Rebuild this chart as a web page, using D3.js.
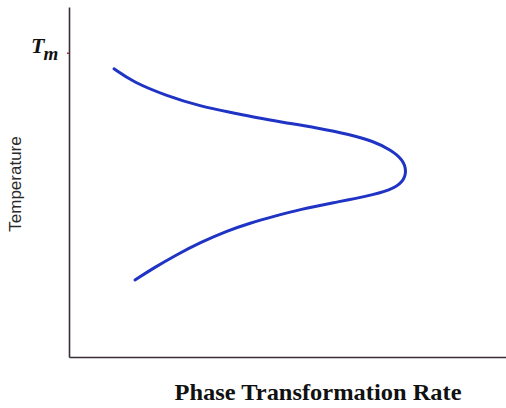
<!DOCTYPE html>
<html>
<head>
<meta charset="utf-8">
<script src="https://cdn.jsdelivr.net/npm/d3@7"></script>
<style>
  body { margin: 0; background: #fff; }
  svg { display: block; }
</style>
</head>
<body>
<div id="chart"></div>
<script>
// curve: rate (x) vs temperature (y), Tm = 100
var rate = [10.3, 14.7, 22.4, 30.0, 37.6, 42.6, 49.0, 56.7, 64.3, 69.6, 73.6, 76.4, 77.3,
            76.4, 73.6, 68.1, 60.5, 52.9, 47.1, 41.4, 36.1, 30.0, 24.6, 19.3, 15.1];
var temperature = [94.7, 90.3, 85.8, 82.4, 80.2, 78.7, 77.1, 75.3, 73.1, 70.9, 68.1, 64.9, 61.0,
                   57.4, 54.8, 52.8, 50.7, 48.5, 46.3, 44.0, 41.4, 37.6, 33.6, 29.2, 25.3];
var tempTicks = [100];
var tempTickLabels = ["T", "m"];

var width = 506, height = 408;
var margin = { top: 7, right: 0, bottom: 50, left: 69 };

var svg = d3.select("#chart").append("svg")
  .attr("width", width)
  .attr("height", height);

var x = d3.scaleLinear()
  .domain([0, 100])
  .range([margin.left, width - margin.right]);
var y = d3.scaleLinear()
  .domain([0, 115])
  .range([height - margin.bottom - 1, margin.top]);

var axisColor = "#3b2d38";

// x axis: plain line, no ticks
var gx = svg.append("g")
  .attr("transform", "translate(0," + y(0) + ")")
  .call(d3.axisBottom(x).tickValues([]).tickSizeOuter(0));
gx.select(".domain").attr("stroke", axisColor).attr("stroke-width", 1.6);

// y axis with the single Tm tick
var gy = svg.append("g")
  .attr("transform", "translate(" + x(0) + ",0)")
  .call(d3.axisLeft(y).tickValues(tempTicks).tickSize(2).tickSizeOuter(0).tickFormat(""));
gy.select(".domain").attr("stroke", axisColor).attr("stroke-width", 1.6);
gy.selectAll(".tick line").attr("stroke", "#b0304a").attr("stroke-width", 1.5);

var tm = gy.selectAll(".tick").append("text")
  .attr("x", -38)
  .attr("y", 0)
  .attr("fill", "#111")
  .attr("font-family", "'Liberation Serif', 'Times New Roman', serif")
  .attr("font-style", "italic")
  .attr("font-weight", "bold")
  .attr("text-anchor", "start")
  .attr("font-size", 22);
tm.append("tspan").text(tempTickLabels[0]);
tm.append("tspan").attr("dx", -1).attr("dy", 7).attr("font-size", 19).text(tempTickLabels[1]);

// the curve
var points = rate.map(function(d, i) { return [d, temperature[i]]; });
var line = d3.line()
  .x(function(d) { return x(d[0]); })
  .y(function(d) { return y(d[1]); })
  .curve(d3.curveBasis);

svg.append("path")
  .datum(points)
  .attr("d", line)
  .attr("fill", "none")
  .attr("stroke", "#1f33c4")
  .attr("stroke-width", 3)
  .attr("stroke-linecap", "round");

// axis titles
svg.append("text")
  .attr("transform", "translate(21,184) rotate(-90)")
  .attr("text-anchor", "middle")
  .attr("font-family", "'Liberation Sans', Arial, sans-serif")
  .attr("font-size", 17)
  .attr("fill", "#2a2a2a")
  .text("Temperature");

svg.append("text")
  .attr("x", 318)
  .attr("y", 400)
  .attr("text-anchor", "middle")
  .attr("font-family", "'Liberation Serif', 'Times New Roman', serif")
  .attr("font-weight", "bold")
  .attr("font-size", 23)
  .attr("textLength", 287)
  .attr("lengthAdjust", "spacingAndGlyphs")
  .attr("fill", "#111")
  .text("Phase Transformation Rate");
</script>
</body>
</html>
